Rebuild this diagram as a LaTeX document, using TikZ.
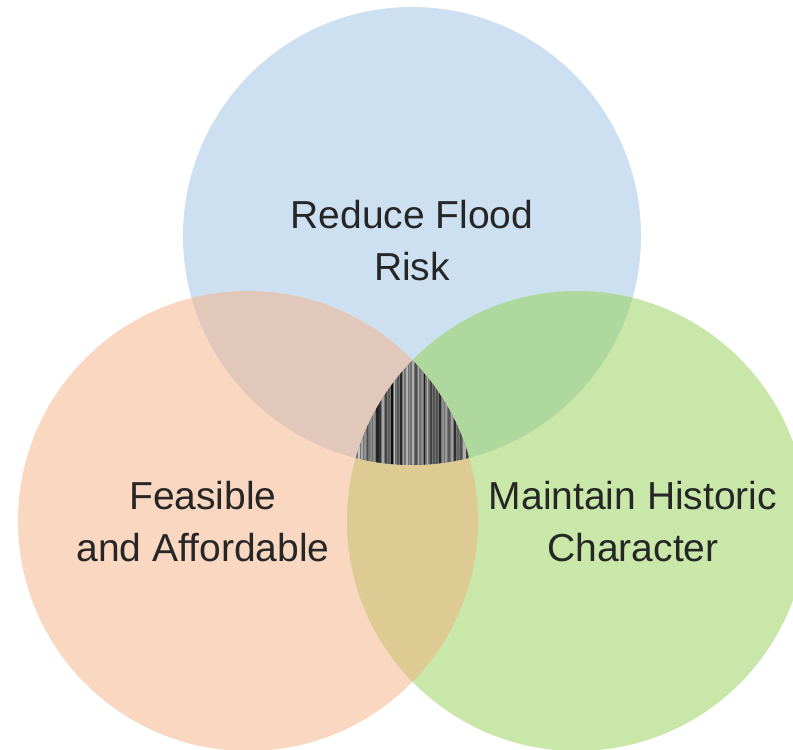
\documentclass[tikz,border=0pt]{standalone}
\usepackage{fontspec}
\setmainfont{Liberation Sans}
\definecolor{cblue}{HTML}{CDE0F1}
\definecolor{cpeach}{HTML}{F9D7C1}
\definecolor{cgreen}{HTML}{C9E7A8}
\definecolor{cbp}{HTML}{E1C8BA}
\definecolor{cbg}{HTML}{AED89E}
\definecolor{cpg}{HTML}{DECB94}
\definecolor{ctext}{HTML}{262626}
\tikzset{lbl/.style={text=ctext, align=center, font=\fontsize{39}{52}\selectfont}}
\begin{document}
\begin{tikzpicture}[x=1pt,y=-1pt]
\useasboundingbox (0,0) rectangle (793,750);
\coordinate (T) at (412,236);
\coordinate (L) at (248,521);
\coordinate (R) at (577,521);
\fill[cblue] (T) circle (229pt);
\fill[cpeach] (L) circle (230pt);
\fill[cgreen] (R) circle (230pt);
\begin{scope}
  \clip (T) circle (229pt);
  \fill[cbp] (L) circle (230pt);
  \fill[cbg] (R) circle (230pt);
\end{scope}
\begin{scope}
  \clip (L) circle (230pt);
  \fill[cpg] (R) circle (230pt);
\end{scope}
\begin{scope}
  \clip (T) circle (229pt);
  \clip (L) circle (230pt);
  \clip (R) circle (230pt);
  \fill[black!55] (350,350) rectangle (480,475);
  \pgfmathsetseed{11}
  \foreach \i in {0,...,42} {
    \pgfmathsetmacro\g{int(20+80*rnd)}
    \pgfmathsetmacro\w{1.2+1.6*rnd}
    \fill[black!\g!white] (352+3*\i,350) rectangle ++(\w,125);
  }
\end{scope}
\node[lbl] (top) at (412,241) {Reduce Flood\\Risk};
\node[lbl] (left) at (203,522) {Feasible\\and Affordable};
\node[lbl] (right) at (633,522) {Maintain Historic\\Character};
\end{tikzpicture}
\end{document}
